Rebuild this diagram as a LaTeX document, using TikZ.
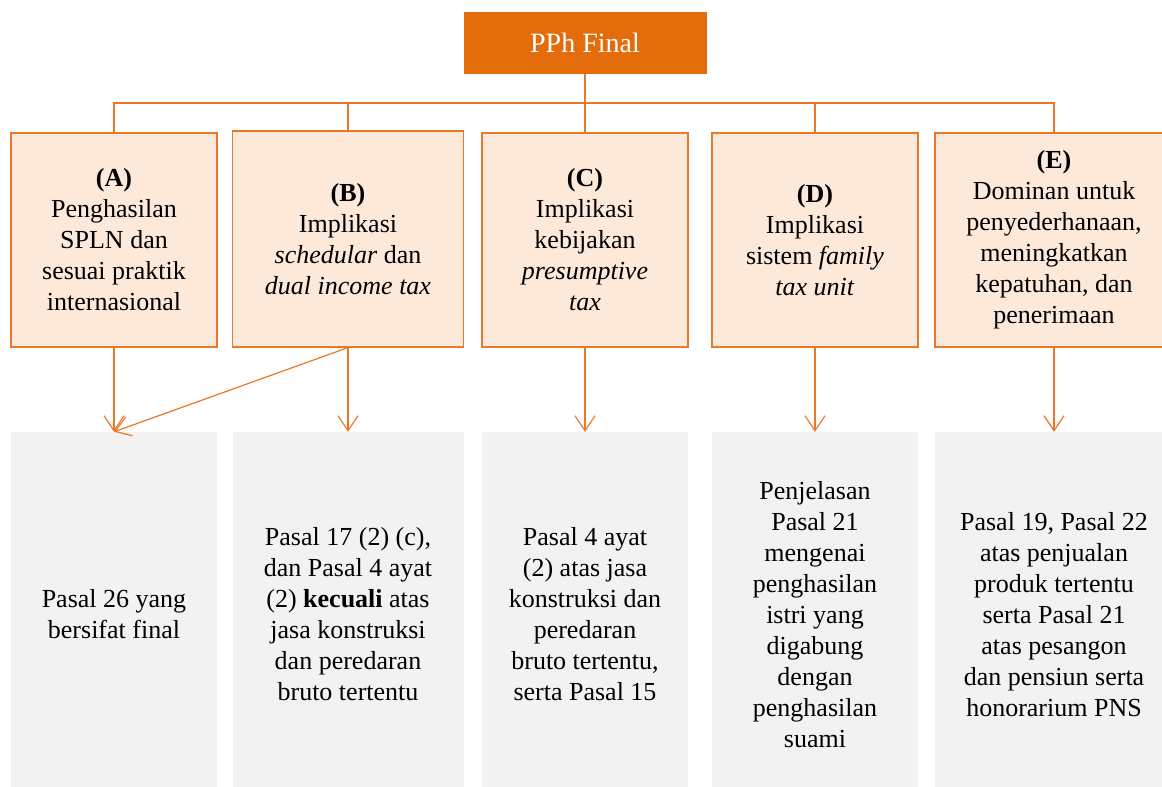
\documentclass[tikz,border=0pt]{standalone}
\usepackage{fontspec}
\setmainfont{Liberation Serif}
\usetikzlibrary{arrows.meta}
\definecolor{orgdark}{HTML}{E46C0A}
\definecolor{orgline}{HTML}{E9782A}
\definecolor{peach}{HTML}{FDE9D9}
\definecolor{greybox}{HTML}{F2F2F2}
\begin{document}
\begin{tikzpicture}[x=1pt,y=-1pt,
  txt/.style={align=center, inner sep=0pt, font=\fontsize{26}{31}\selectfont},
  topbox/.style={txt, draw=orgline, line width=1.2pt, fill=peach, minimum height=214pt},
  botbox/.style={txt, fill=greybox, minimum height=365pt},
  conn/.style={draw=orgline, line width=1.2pt},
  arr/.style={conn, -{Straight Barb[length=15pt,width=20pt]}}]
\useasboundingbox (0,0) rectangle (1162,787);
\clip (0,0) rectangle (1162,787);
% root
\node[fill=orgdark, text=white, inner sep=0pt, minimum width=243pt, minimum height=62pt,
      font=\fontsize{28}{34}\selectfont] (root) at (585,43) {PPh Final};
% top boxes
\node[topbox, minimum width=206pt] (ta) at (114,240)
  {\textbf{(A)}\\Penghasilan\\SPLN dan\\sesuai praktik\\internasional};
\node[topbox, minimum width=231pt, minimum height=216pt] (tb) at (348,239)
  {\textbf{(B)}\\Implikasi\\\textit{schedular} dan\\\textit{dual income tax}};
\node[topbox, minimum width=206pt] (tc) at (585,240)
  {\textbf{(C)}\\Implikasi\\kebijakan\\\textit{presumptive}\\\textit{tax}};
\node[topbox, minimum width=206pt] (td) at (815,240)
  {\textbf{(D)}\\Implikasi\\sistem \textit{family}\\\textit{tax unit}};
\node[topbox, minimum width=238pt] (te) at (1054,240)
  {\textbf{(E)}\\Dominan untuk\\penyederhanaan,\\meningkatkan\\kepatuhan, dan\\penerimaan};
% bottom boxes
\node[botbox, minimum width=206pt] (ba) at (114,614.5)
  {Pasal 26 yang\\bersifat final};
\node[botbox, minimum width=231pt] (bb) at (348,614.5)
  {Pasal 17 (2) (c),\\dan Pasal 4 ayat\\(2) \textbf{kecuali} atas\\jasa konstruksi\\dan peredaran\\bruto tertentu};
\node[botbox, minimum width=206pt] (bc) at (585,614.5)
  {Pasal 4 ayat\\(2) atas jasa\\konstruksi dan\\peredaran\\bruto tertentu,\\serta Pasal 15};
\node[botbox, minimum width=206pt] (bd) at (815,614.5)
  {Penjelasan\\Pasal 21\\mengenai\\penghasilan\\istri yang\\digabung\\dengan\\penghasilan\\suami};
\node[botbox, minimum width=238pt] (be) at (1054,614.5)
  {Pasal 19, Pasal 22\\atas penjualan\\produk tertentu\\serta Pasal 21\\atas pesangon\\dan pensiun serta\\honorarium PNS};
% bus
\coordinate (bus) at (585,103);
\draw[conn] (root.south) -- (bus);
\draw[conn] (ta.north) -- (ta.north |- bus) -- (te.north |- bus) -- (te.north);
\draw[conn] (tb.north) -- (tb.north |- bus);
\draw[conn] (td.north) -- (td.north |- bus);
\draw[conn] (bus) -- (tc.north);
% arrows
\draw[arr] (ta.south) -- (ba.north);
\draw[arr] (tb.south) -- (bb.north);
\draw[arr] (tb.south) -- (ba.north);
\draw[arr] (tc.south) -- (bc.north);
\draw[arr] (td.south) -- (bd.north);
\draw[arr] (te.south) -- (be.north);
\end{tikzpicture}
\end{document}
